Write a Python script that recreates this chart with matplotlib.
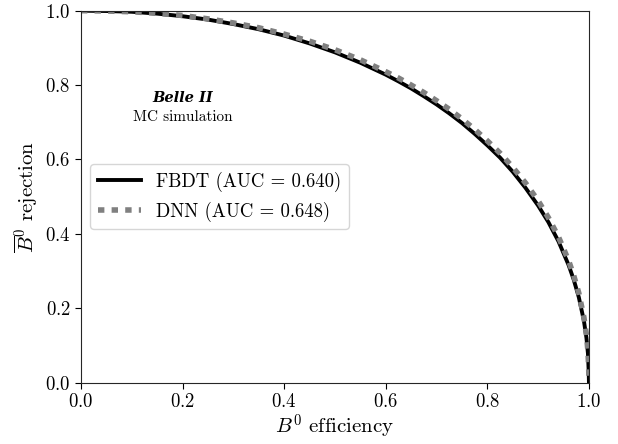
import matplotlib

matplotlib.use("Agg")
import matplotlib.pyplot as plt

plt.rcParams["font.family"] = "serif"
plt.rcParams["font.serif"] = ["cmr10"]
plt.rcParams["mathtext.fontset"] = "cm"
plt.rcParams["axes.formatter.use_mathtext"] = True
plt.rcParams["axes.unicode_minus"] = False

# signal efficiency (x) and background rejection (y)
eff = [0.0, 0.05, 0.1, 0.15, 0.2, 0.25, 0.3, 0.35, 0.4, 0.45, 0.5, 0.55,
       0.6, 0.625, 0.65, 0.675, 0.7, 0.725, 0.75, 0.775, 0.8, 0.825, 0.85,
       0.875, 0.9, 0.92, 0.94, 0.96, 0.97, 0.98, 0.99, 0.995, 0.998,
       0.9995, 1.0]
rej_fbdt = [1.0, 0.999, 0.997, 0.992, 0.985, 0.976, 0.964, 0.950, 0.933,
            0.912, 0.888, 0.860, 0.828, 0.810, 0.791, 0.770, 0.748, 0.724,
            0.698, 0.669, 0.638, 0.605, 0.567, 0.524, 0.476, 0.432, 0.380,
            0.316, 0.277, 0.230, 0.167, 0.121, 0.079, 0.03, 0.0]
rej_dnn = [1.0, 0.999, 0.997, 0.993, 0.987, 0.978, 0.967, 0.954, 0.937,
           0.918, 0.895, 0.868, 0.836, 0.819, 0.800, 0.780, 0.758, 0.735,
           0.709, 0.681, 0.650, 0.617, 0.579, 0.537, 0.489, 0.444, 0.392,
           0.328, 0.288, 0.241, 0.176, 0.129, 0.085, 0.04, 0.0]

auc_fbdt = 0.640
auc_dnn = 0.648

fig = plt.figure(figsize=(6.18, 4.44), dpi=100)
ax = fig.add_axes([0.131, 0.138, 0.822, 0.838])

ax.plot(eff, rej_fbdt, color="black", lw=2.8,
        label="FBDT (AUC = %.3f)" % auc_fbdt)
ax.plot(eff, rej_dnn, color="gray", lw=4, dashes=(1.15, 1.3),
        label="DNN (AUC = %.3f)" % auc_dnn)

ax.set_xlim(0, 1)
ax.set_ylim(0, 1)
ax.set_xticks([0.0, 0.2, 0.4, 0.6, 0.8, 1.0])
ax.set_yticks([0.0, 0.2, 0.4, 0.6, 0.8, 1.0])
ax.tick_params(labelsize=13.5, length=4)
for s in ax.spines.values():
    s.set_color("0.15")

ax.set_xlabel(r"$B^0$ efficiency", fontsize=15, labelpad=1)
ax.set_ylabel(r"$\overline{B}^0$ rejection", fontsize=15, labelpad=4)

ax.text(0.2, 0.765, "Belle II", transform=ax.transAxes,
        ha="center", va="center", fontsize=10.5, family="DejaVu Serif",
        style="italic", weight="bold")
ax.text(0.2, 0.714, "MC simulation", transform=ax.transAxes,
        ha="center", va="center", fontsize=11)

ax.legend(loc="center left", fontsize=13.5, handlelength=2.3,
          borderaxespad=0.5)

fig.savefig("out.png", dpi=100)
